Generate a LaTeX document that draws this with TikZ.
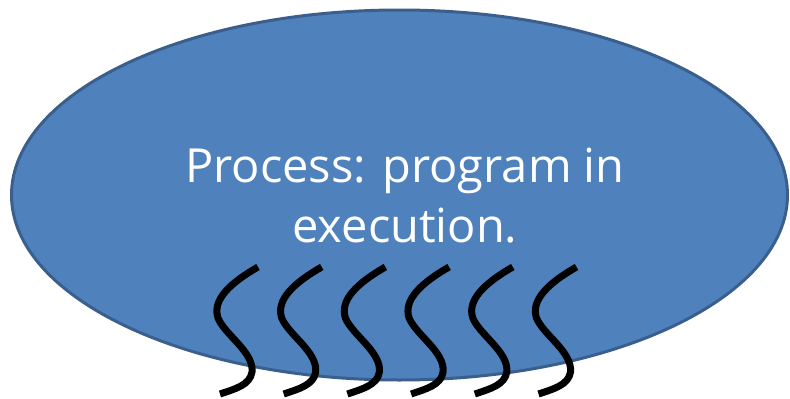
\documentclass[tikz,border=0pt]{standalone}
\usepackage{fontspec}
\setmainfont{Open Sans}
\usetikzlibrary{shapes.geometric}
\definecolor{procfill}{HTML}{4F81BD}
\definecolor{procedge}{HTML}{3A5F8C}
\tikzset{
  process/.style={ellipse, fill=procfill, draw=procedge, line width=3pt,
    minimum width=776pt, minimum height=370pt, inner sep=0pt},
  caption/.style={text=white, align=center, font=\fontsize{47}{60}\selectfont},
  thread/.style={draw=black, line width=7pt}
}
\begin{document}
\begin{tikzpicture}[x=1pt,y=-1pt]
  \useasboundingbox (0,0) rectangle (790,399);
  \node[process] (proc) at (399.5,195) {};
  \node[caption] (label) at (405,196) {Process: program in\\execution.};
  % threads running inside the process
  \foreach \i in {0,...,5}{
    \begin{scope}[xshift=\i*63.7]
      \draw[thread] (258,267) .. controls (230,283) and (212,300) .. (218,318)
        .. controls (225,335) and (254,352) .. (252,372)
        .. controls (250,385) and (235,389) .. (220,394);
    \end{scope}
  }
\end{tikzpicture}
\end{document}
